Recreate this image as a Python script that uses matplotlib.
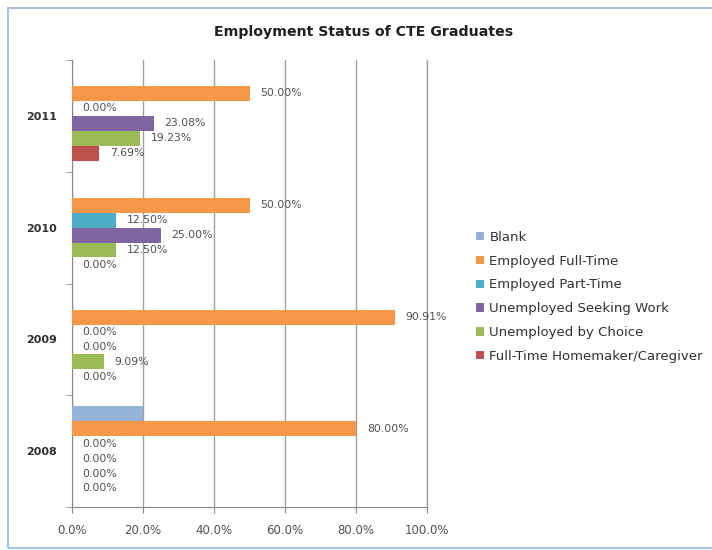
import matplotlib
matplotlib.use('Agg')
import matplotlib.pyplot as plt
from matplotlib.patches import Rectangle
import numpy as np

plt.rcParams['font.family'] = ['DejaVu Sans']

years = ['2008', '2009', '2010', '2011']
series = ['Blank', 'Employed Full-Time', 'Employed Part-Time',
          'Unemployed Seeking Work', 'Unemployed by Choice',
          'Full-Time Homemaker/Caregiver']
blank = [20.00, 0.00, 0.00, 0.00]
full_time = [80.00, 90.91, 50.00, 50.00]
part_time = [0.00, 0.00, 12.50, 0.00]
seeking = [0.00, 0.00, 25.00, 23.08]
by_choice = [0.00, 9.09, 12.50, 19.23]
homemaker = [0.00, 0.00, 0.00, 7.69]
colors = ['#95B3D7', '#F79646', '#4BACC6', '#8064A2', '#9BBB59', '#C0504D']
show_labels = [False, True, True, True, True, True]

values = [blank, full_time, part_time, seeking, by_choice, homemaker]

fig = plt.figure(figsize=(7.12, 5.5), dpi=100)
ax = fig.add_axes([0.101, 0.078, 0.499, 0.813])

y = np.arange(len(years))
h = 0.8 / len(series)
for i, (name, vals, c, lab) in enumerate(zip(series, values, colors, show_labels)):
    off = (2.5 - i) * h
    bars = ax.barh(y + off, vals, height=h, color=c, label=name, zorder=3)
    if lab:
        for b, v in zip(bars, vals):
            ax.text(v + 3.0, b.get_y() + h / 2, f'{v:.2f}%', va='center', ha='left',
                    fontsize=7.8, color='#505050', zorder=4)

ax.set_xlim(0, 100)
ax.set_ylim(-0.5, 3.5)
ax.set_xticks(np.arange(0, 101, 20))
ax.set_xticklabels([f'{t:.1f}%' for t in np.arange(0, 101, 20)], fontsize=8.5, color='#505050')
ax.set_yticks(y)
ax.set_yticklabels(years, fontsize=8, color='#303030', fontweight='bold')
ax.set_yticks(np.arange(-0.5, 3.6, 1), minor=True)
ax.tick_params(axis='y', which='major', length=0, pad=11)
ax.tick_params(axis='y', which='minor', length=4, color='#888888')
ax.tick_params(axis='x', length=4, color='#888888', pad=8)
ax.grid(axis='x', color='#A0A0A0', lw=1, zorder=0)
ax.axvline(100, color='#A0A0A0', lw=1, zorder=0, clip_on=False)
for s in ['top', 'right']:
    ax.spines[s].set_visible(False)
for s in ['left', 'bottom']:
    ax.spines[s].set_color('#888888')

fig.text(0.510, 0.942, 'Employment Status of CTE Graduates', ha='center', va='center',
         fontsize=10.2, fontweight='bold', color='#202020')

fig.legend(loc='upper left', bbox_to_anchor=(0.652, 0.602), frameon=False,
           fontsize=9.5, handlelength=0.6, handleheight=0.6, handletextpad=0.4,
           labelspacing=0.82, labelcolor='#303030')

fig.patches.append(Rectangle((0.011, 0.004), 1.0, 0.982, transform=fig.transFigure,
                             fill=False, edgecolor='#9DC3E6', lw=1.5))

plt.savefig('out.png', dpi=100)
